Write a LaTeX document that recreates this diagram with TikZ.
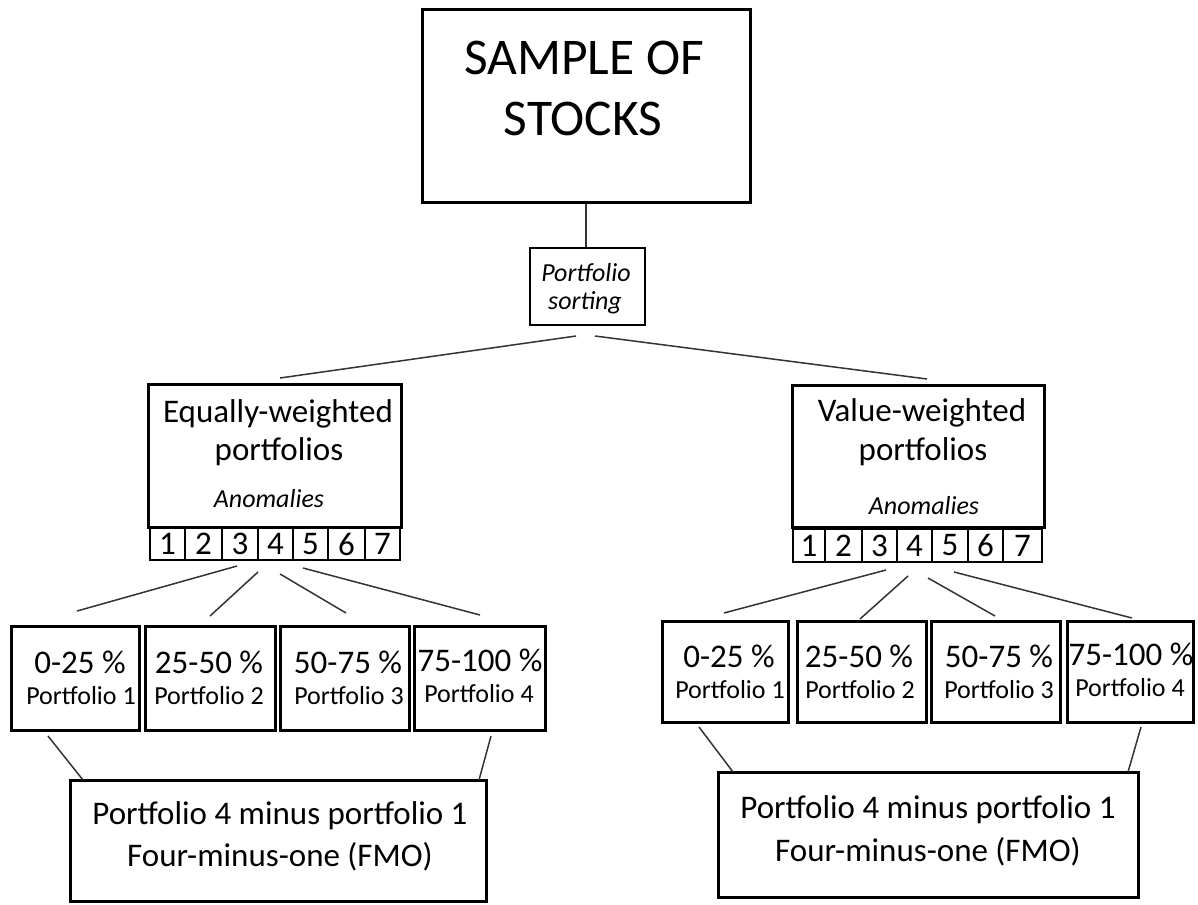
\documentclass[tikz,border=0pt]{standalone}
\usepackage{fontspec}
\setmainfont{Carlito}
\usetikzlibrary{fit}
\begin{document}
\begin{tikzpicture}[x=1pt,y=-1pt,
  box/.style={draw=black, line width=3pt, rectangle, inner sep=0pt},
  thinbox/.style={draw=black, line width=1.3pt, rectangle, inner sep=0pt},
  cell/.style={draw=black, line width=2pt, rectangle, inner sep=0pt},
  conn/.style={draw=black!80, line width=1.5pt},
  bigtxt/.style={font=\fontsize{51.5}{60}\selectfont, inner sep=0pt},
  midtxt/.style={font=\fontsize{33}{39}\selectfont, inner sep=0pt},
  smalltxt/.style={font=\fontsize{26}{31}\selectfont, inner sep=0pt},
  itxt/.style={font=\fontsize{26}{31}\itshape\selectfont, inner sep=0pt},
  digit/.style={font=\fontsize{33}{38}\selectfont, inner sep=0pt},
]
\path[use as bounding box] (0,0) rectangle (1198,904);

% top box
\node[box, fit={(422,10)(750,202)}] (sample) {};
\node[bigtxt] (samplet1) at (584,58) {SAMPLE OF};
\node[bigtxt] (samplet2) at (583,119) {STOCKS};

% sorting box
\node[thinbox, fit={(530,248)(645,325)}] (sort) {};
\node[itxt] (sortt1) at (586,273) {Portfolio};
\node[itxt] (sortt2) at (585,303) {sorting};
\draw[conn, line width=1.3pt] (sample.south -| 586,0) -- (sort.north -| 586,0);

% weighted boxes
\node[box, fit={(148,384)(401,527)}] (eqbox) {};
\node[midtxt] (eqt1) at (278,414) {Equally-weighted};
\node[midtxt] (eqt2) at (279,452) {portfolios};
\node[itxt] (eqt3) at (269,499) {Anomalies};

\node[box, fit={(792,385)(1044,527)}] (vwbox) {};
\node[midtxt] (vwt1) at (922,413) {Value-weighted};
\node[midtxt] (vwt2) at (923,452) {portfolios};
\node[itxt] (vwt3) at (924,506) {Anomalies};

% anomaly cells
\foreach \a/\b [count=\i] in {150/185,185/222,222/258,258/293,293/328,328/365,365/400}{
  \node[cell, fit={(\a,528)(\b,560)}] (eqc\i) {};
  \node[digit] (eqd\i) at (eqc\i.center) {\i};
}
\foreach \a/\b [count=\i] in {793/825,825/862,862/897,897/932,932/968,968/1003,1003/1042}{
  \node[cell, fit={(\a,529)(\b,562)}] (vwc\i) {};
  \node[digit] (vwd\i) at (vwc\i.center) {\i};
}

% connectors sorting -> weighted
\coordinate (sl) at (576,336);
\coordinate (sr) at (595,336);
\coordinate (el) at (280,378);
\coordinate (vr) at (927,379);
\draw[conn] (sl) -- (el);
\draw[conn] (sr) -- (vr);

% left portfolio boxes
\node[box, fit={(11,626)(139,730)}] (ep1) {};
\node[box, fit={(145,626)(275,730)}] (ep2) {};
\node[box, fit={(280,626)(409,730)}] (ep3) {};
\node[box, fit={(414,626)(545,730)}] (ep4) {};
\node[midtxt] (ep1a) at (80,662) {0-25 \%};
\node[smalltxt] (ep1b) at (81,696) {Portfolio 1};
\node[midtxt] (ep2a) at (209,662) {25-50 \%};
\node[smalltxt] (ep2b) at (209,696) {Portfolio 2};
\node[midtxt] (ep3a) at (348,662) {50-75 \%};
\node[smalltxt] (ep3b) at (349,696) {Portfolio 3};
\node[midtxt] (ep4a) at (480,660) {75-100 \%};
\node[smalltxt] (ep4b) at (479,694) {Portfolio 4};

% right portfolio boxes
\node[box, fit={(662,621)(788,722)}] (vp1) {};
\node[box, fit={(797,621)(926,722)}] (vp2) {};
\node[box, fit={(931,621)(1060,722)}] (vp3) {};
\node[box, fit={(1067,621)(1193,722)}] (vp4) {};
\node[midtxt] (vp1a) at (729,656) {0-25 \%};
\node[smalltxt] (vp1b) at (730,690) {Portfolio 1};
\node[midtxt] (vp2a) at (859,656) {25-50 \%};
\node[smalltxt] (vp2b) at (860,690) {Portfolio 2};
\node[midtxt] (vp3a) at (999,656) {50-75 \%};
\node[smalltxt] (vp3b) at (999,690) {Portfolio 3};
\node[midtxt] (vp4a) at (1131,654) {75-100 \%};
\node[smalltxt] (vp4b) at (1130,688) {Portfolio 4};

% connectors anomalies -> portfolios (left)
\coordinate (ea1) at (237,566); \coordinate (eb1) at (77,611);
\coordinate (ea2) at (258,572); \coordinate (eb2) at (210,616);
\coordinate (ea3) at (280,574); \coordinate (eb3) at (346,613);
\coordinate (ea4) at (303,568); \coordinate (eb4) at (480,615);
\foreach \i in {1,2,3,4}{\draw[conn] (ea\i) -- (eb\i);}

% connectors anomalies -> portfolios (right)
\coordinate (va1) at (886,570); \coordinate (vb1) at (724,613);
\coordinate (va2) at (908,576); \coordinate (vb2) at (860,619);
\coordinate (va3) at (928,578); \coordinate (vb3) at (995,616);
\coordinate (va4) at (954,572); \coordinate (vb4) at (1132,618);
\foreach \i in {1,2,3,4}{\draw[conn] (va\i) -- (vb\i);}

% bottom boxes
\node[box, fit={(70,780)(486,901)}] (efmo) {};
\node[midtxt] (efmo1) at (280,816) {Portfolio 4 minus portfolio 1};
\node[midtxt] (efmo2) at (280,857) {Four-minus-one (FMO)};

\node[box, fit={(718,772)(1138,897)}] (vfmo) {};
\node[midtxt] (vfmo1) at (928,810) {Portfolio 4 minus portfolio 1};
\node[midtxt] (vfmo2) at (928,852) {Four-minus-one (FMO)};

% connectors portfolios -> FMO
\coordinate (ef1) at (48,736); \coordinate (ef2) at (83,780);
\coordinate (ef3) at (491,736); \coordinate (ef4) at (479,780);
\draw[conn] (ef1) -- (ef2);
\draw[conn] (ef3) -- (ef4);
\coordinate (vf1) at (699,727); \coordinate (vf2) at (733,772);
\coordinate (vf3) at (1141,727); \coordinate (vf4) at (1128,772);
\draw[conn] (vf1) -- (vf2);
\draw[conn] (vf3) -- (vf4);
\end{tikzpicture}
\end{document}
